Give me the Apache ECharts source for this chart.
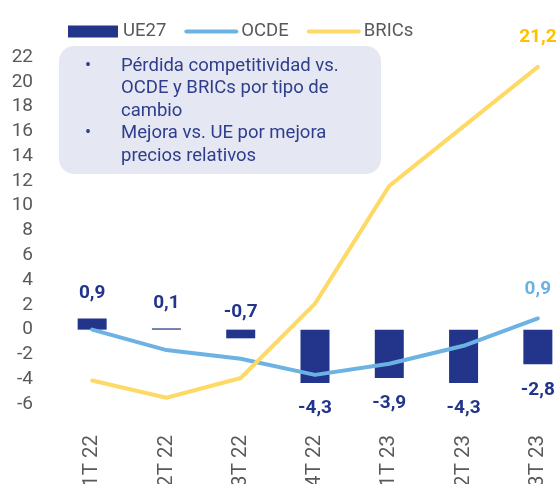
<!DOCTYPE html>
<html>
<head>
<meta charset="utf-8">
<script src="https://cdn.jsdelivr.net/npm/echarts@6/dist/echarts.min.js"></script>
<style>
html,body{margin:0;padding:0;background:#fff;}
#chart{width:560px;height:484px;}
</style>
</head>
<body>
<div id="chart"></div>
<script>
const categories = ['1T 22', '2T 22', '3T 22', '4T 22', '1T 23', '2T 23', '3T 23'];
const ue27 = [0.9, 0.1, -0.7, -4.3, -3.9, -4.3, -2.8];
const ocde = [0.0, -1.65, -2.35, -3.65, -2.75, -1.3, 0.9];
const brics = [-4.1, -5.5, -3.9, 2.1, 11.6, 16.4, 21.2];
const yTicks = { min: -6, max: 22, step: 2 };
const noteLines = [
  ['•', 'Pérdida competitividad vs.'],
  ['', 'OCDE y BRICs por tipo de'],
  ['', 'cambio'],
  ['•', 'Mejora vs. UE por mejora'],
  ['', 'precios relativos']
];

const NAVY = '#22358A';
const BLUE = '#6CB2E3';
const YELLOW = '#FFD966';
const GRAY = '#595959';
const FONT = 'Roboto';

const fmt = v => v.toFixed(1).replace('.', ',');

const chart = echarts.init(document.getElementById('chart'), null, { renderer: 'canvas' });

const barData = ue27.map(v => ({
  value: v,
  label: {
    position: v >= -1 ? 'top' : 'bottom',
    distance: (v < 0 && v >= -1) ? 8 : 16
  }
}));

const lastLabel = (arr, color) => arr.map((v, i) => i === arr.length - 1 ? {
  value: v,
  symbol: 'circle', symbolSize: 0.1,
  label: { show: true, position: 'top', distance: 20, color: color, fontWeight: 'bold', fontSize: 19, fontFamily: FONT, formatter: p => fmt(p.value) }
} : v);

const graphic = [
  { type: 'rect', left: 59, top: 46, shape: { width: 322, height: 128, r: 15 }, style: { fill: '#E5E8F2' }, z: 0 }
];
noteLines.forEach((ln, i) => {
  const y = 66 + i * 22.5;
  if (ln[0]) graphic.push({ type: 'text', x: 85, y: y, style: { text: ln[0], font: '18px ' + FONT, fill: '#2E3D8C', verticalAlign: 'middle' } });
  graphic.push({ type: 'text', x: 121, y: y, style: { text: ln[1], font: '18.5px ' + FONT, fill: '#2E3D8C', verticalAlign: 'middle' } });
});

chart.setOption({
  animation: false,
  textStyle: { fontFamily: FONT },
  grid: { left: 55, right: -15, top: 57, bottom: 80, containLabel: false, outerBoundsMode: 'none' },
  legend: {
    left: 63, top: 17,
    itemWidth: 50, itemHeight: 12, itemGap: 18,
    textStyle: { fontSize: 18.5, color: GRAY, fontFamily: FONT },
    data: [
      { name: 'UE27', icon: 'rect' },
      { name: 'OCDE', lineStyle: { width: 4, cap: 'round' }, itemStyle: { opacity: 0 } },
      { name: 'BRICs', lineStyle: { width: 4, cap: 'round' }, itemStyle: { opacity: 0 } }
    ]
  },
  graphic: graphic,
  xAxis: {
    type: 'category',
    data: categories,
    axisLine: { show: false, onZero: false },
    axisTick: { show: false },
    axisLabel: { rotate: 90, margin: 31, fontSize: 20.5, color: GRAY, fontFamily: FONT }
  },
  yAxis: {
    type: 'value',
    min: yTicks.min, max: yTicks.max, interval: yTicks.step,
    axisLine: { show: false },
    axisTick: { show: false },
    splitLine: { show: false },
    axisLabel: { fontSize: 19, color: GRAY, margin: 22, fontFamily: FONT }
  },
  series: [
    {
      name: 'UE27', type: 'bar', data: barData, barWidth: 29,
      itemStyle: { color: NAVY },
      label: { show: true, color: NAVY, fontWeight: 'bold', fontSize: 19, fontFamily: FONT, formatter: p => fmt(p.value) },
      z: 2
    },
    {
      name: 'OCDE', type: 'line', data: lastLabel(ocde, BLUE), symbol: 'none',
      lineStyle: { color: BLUE, width: 4, cap: 'round', join: 'round' },
      itemStyle: { color: BLUE }, z: 3
    },
    {
      name: 'BRICs', type: 'line', data: lastLabel(brics, '#FFC000'), symbol: 'none',
      lineStyle: { color: YELLOW, width: 4, cap: 'round', join: 'round' },
      itemStyle: { color: YELLOW }, z: 3
    }
  ]
});
</script>
</body>
</html>
